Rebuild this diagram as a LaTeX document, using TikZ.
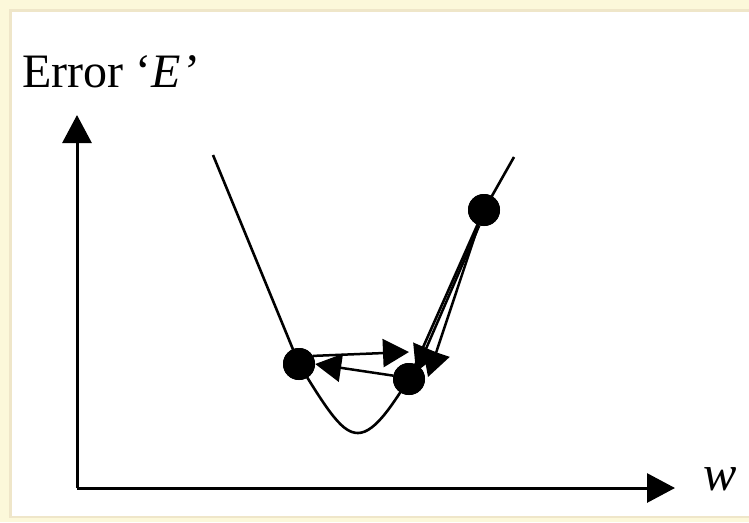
\documentclass[tikz,border=0pt]{standalone}
\usepackage{fontspec}
\setmainfont{Liberation Serif}
\usetikzlibrary{arrows.meta}
\definecolor{cream}{HTML}{FCF8DA}
\definecolor{beige}{HTML}{EFE6C9}
\tikzset{
  dot/.style={circle,fill=black,draw=none,minimum size=32pt,inner sep=0pt},
  axisline/.style={line width=3pt,black,-{Triangle[length=28pt,width=29pt]}},
  arr/.style={line width=2.5pt,black,-{Triangle[length=26pt,width=28pt]}},
  curveline/.style={line width=2.6pt,black,line join=round},
  lab/.style={anchor=base west,inner sep=0pt,font=\fontsize{48}{56}\selectfont}
}
\begin{document}
\begin{tikzpicture}[x=1pt,y=-1pt]
\useasboundingbox (0,0) rectangle (749,522);
% frame
\fill[cream] (0,0) rectangle (749,522);
\fill[beige] (9,9) rectangle (749,518);
\fill[white] (12,12) rectangle (749,516);
% axes
\coordinate (o) at (77,488);
\coordinate (ytip) at (77,115);
\coordinate (xtip) at (675,488);
\draw[axisline] (o) -- (ytip);
\draw[axisline] (o) -- (xtip);
% labels
\node[lab] (ylab) at (22,87) {Error\hspace{12pt}‘\textit{E}\hspace{4pt}’};
\node[lab,font=\fontsize{50}{58}\selectfont] (xlab) at (703,490) {\textit{w}};
% curve
\coordinate (c0) at (213,155);
\coordinate (c5) at (514,157);
\node[dot] (p1) at (299,364) {};
\node[dot] (p2) at (409,379) {};
\node[dot] (p3) at (484,210) {};
\draw[curveline] (c0) -- (p1.center)
  .. controls (330,415) and (343,433) .. (358,433)
  .. controls (376,433) and (395,400) .. (p2.center)
  -- (p3.center) -- (c5);
\node[dot] at (p1) {};
\node[dot] at (p2) {};
\node[dot] at (p3) {};
% arrows
\coordinate (t1) at (409,352);
\coordinate (t3a) at (428,377);
\coordinate (t3b) at (416,372);
\draw[arr] (p1.30) -- (t1);
\draw[arr] (p2.168) -- (p1.east);
\draw[arr] (p3.250) -- (t3a);
\draw[arr] (p3.253) -- (t3b);
\end{tikzpicture}
\end{document}
